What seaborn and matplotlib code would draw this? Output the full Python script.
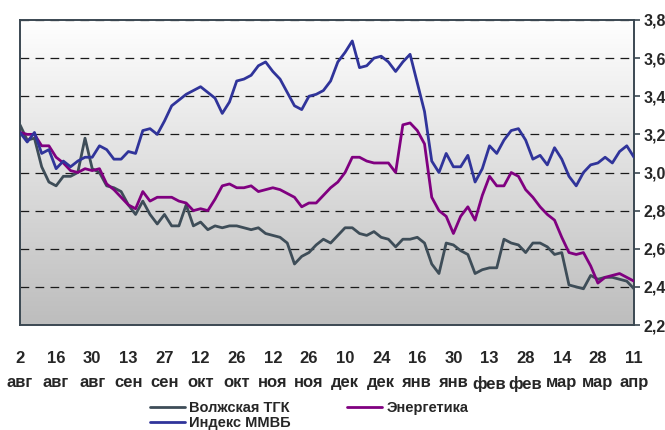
import numpy as np
import pandas as pd
import matplotlib
matplotlib.use("Agg")
import matplotlib.pyplot as plt
from matplotlib.colors import LinearSegmentedColormap
from matplotlib.ticker import FuncFormatter
import seaborn as sns

# ── Style ─────────────────────────────────────────────────────────────────────
sns.set_style("white")
plt.rcParams["font.family"] = ["Liberation Sans Narrow", "Liberation Sans", "DejaVu Sans"]
plt.rcParams["font.weight"] = "bold"

GRAY   = "#3E4D58"
PURPLE = "#800080"
BLUE   = "#30349A"
FRAME  = "#3B4852"

# ── Data (trading-day index, every 2nd session) ───────────────────────────────
day_labels   = ["2", "16", "30", "13", "27", "12", "26", "12", "26",
                "10", "24", "16", "30", "13", "28", "14", "28", "11"]
month_labels = ["авг", "авг", "авг", "сен", "сен", "окт", "окт", "ноя", "ноя",
                "дек", "дек", "янв", "янв", "фев", "фев", "мар", "мар", "апр"]

volga = [3.25, 3.17, 3.18, 3.03, 2.95, 2.93, 2.98, 2.98, 3.00, 3.18,
         3.02, 3.00, 2.93, 2.92, 2.90, 2.83, 2.78, 2.85, 2.78, 2.73,
         2.78, 2.72, 2.72, 2.83, 2.72, 2.74, 2.70, 2.72, 2.71, 2.72,
         2.72, 2.71, 2.70, 2.71, 2.68, 2.67, 2.66, 2.63, 2.52, 2.56,
         2.58, 2.62, 2.65, 2.63, 2.67, 2.71, 2.71, 2.68, 2.67, 2.69,
         2.66, 2.65, 2.61, 2.65, 2.65, 2.66, 2.63, 2.52, 2.47, 2.63,
         2.62, 2.59, 2.57, 2.47, 2.49, 2.50, 2.50, 2.65, 2.63, 2.62,
         2.58, 2.63, 2.63, 2.61, 2.57, 2.58, 2.41, 2.40, 2.39, 2.46,
         2.44, 2.45, 2.45, 2.44, 2.43, 2.39]

energy = [3.21, 3.20, 3.20, 3.14, 3.14, 3.08, 3.05, 3.01, 3.00, 3.02,
          3.01, 3.02, 2.94, 2.91, 2.87, 2.83, 2.81, 2.90, 2.85, 2.87,
          2.87, 2.87, 2.85, 2.84, 2.80, 2.81, 2.80, 2.86, 2.93, 2.94,
          2.92, 2.92, 2.93, 2.90, 2.91, 2.92, 2.91, 2.89, 2.87, 2.82,
          2.84, 2.84, 2.88, 2.92, 2.95, 3.00, 3.08, 3.08, 3.06, 3.05,
          3.05, 3.05, 3.00, 3.25, 3.26, 3.22, 3.15, 2.87, 2.80, 2.77,
          2.68, 2.77, 2.82, 2.75, 2.88, 2.98, 2.93, 2.93, 3.00, 2.98,
          2.91, 2.87, 2.82, 2.78, 2.75, 2.66, 2.58, 2.57, 2.58, 2.51,
          2.42, 2.45, 2.46, 2.47, 2.45, 2.43]

micex = [3.21, 3.16, 3.21, 3.10, 3.12, 3.02, 3.06, 3.03, 3.06, 3.08,
         3.08, 3.14, 3.12, 3.07, 3.07, 3.11, 3.10, 3.22, 3.23, 3.20,
         3.27, 3.35, 3.38, 3.41, 3.43, 3.45, 3.42, 3.39, 3.31, 3.37,
         3.48, 3.49, 3.51, 3.56, 3.58, 3.53, 3.49, 3.42, 3.35, 3.33,
         3.40, 3.41, 3.43, 3.48, 3.58, 3.63, 3.69, 3.55, 3.56, 3.60,
         3.61, 3.58, 3.53, 3.58, 3.62, 3.47, 3.32, 3.06, 3.00, 3.10,
         3.03, 3.03, 3.09, 2.95, 3.02, 3.14, 3.10, 3.17, 3.22, 3.23,
         3.17, 3.07, 3.09, 3.04, 3.13, 3.07, 2.98, 2.93, 3.00, 3.04,
         3.05, 3.08, 3.05, 3.11, 3.14, 3.08]

names = ["Волжская ТГК", "Энергетика", "Индекс ММВБ"]
session = np.arange(0, 171, 2)
df = pd.DataFrame({
    "session": np.tile(session, 3),
    "value": volga + energy + micex,
    "series": np.repeat(names, len(session)),
})

# ── Plot ──────────────────────────────────────────────────────────────────────
fig = plt.figure(figsize=(6.65, 4.30), dpi=100)
ax = fig.add_axes([20 / 665, 105 / 430, 614 / 665, 305 / 430])

# grey-to-white background gradient
grad = LinearSegmentedColormap.from_list("bg", ["#BDBDBD", "#FFFFFF"])
ax.imshow(np.linspace(0, 1, 256).reshape(-1, 1), cmap=grad, origin="lower",
          extent=[0, 1, 0, 1], transform=ax.transAxes, aspect="auto", zorder=0)

sns.lineplot(data=df, x="session", y="value", hue="series", hue_order=names,
             palette=[GRAY, PURPLE, BLUE], linewidth=2.0, ax=ax, zorder=3,
             legend=False)

ax.set_xlim(0, 170)
ax.set_ylim(2.2, 3.8)
ax.set_xlabel("")
ax.set_ylabel("")

ax.set_yticks(np.arange(2.2, 3.81, 0.2))
ax.yaxis.set_major_formatter(FuncFormatter(lambda v, _: f"{v:.1f}".replace(".", ",")))
ax.yaxis.tick_right()
ax.set_xticks(np.arange(0, 171, 10))
ax.set_xticklabels([f"{d}\n{m}" for d, m in zip(day_labels, month_labels)],
                   linespacing=1.75)

ax.yaxis.grid(True, linestyle=(0, (7, 5)), color="#1A1A1A", linewidth=0.9, zorder=1)
ax.xaxis.grid(False)
ax.set_axisbelow(True)

for s in ax.spines.values():
    s.set_color(FRAME)
    s.set_linewidth(1.4)

ax.tick_params(axis="x", direction="out", length=5, width=1.2, color=FRAME,
               pad=14, labelsize=12)
ax.tick_params(axis="y", direction="out", length=4, width=1.2, color=FRAME,
               pad=3, labelsize=11.5, right=True, left=False)

# legend: two columns, Волжская ТГК / Индекс ММВБ | Энергетика
lines = {n: l for n, l in zip(names, ax.get_lines())}
order = ["Волжская ТГК", "Индекс ММВБ", "Энергетика"]
fig.legend([lines[n] for n in order], order, ncol=2, loc="center",
           bbox_to_anchor=(0.465, 0.034), frameon=False,
           handlelength=2.4, handletextpad=0.25, columnspacing=3.9,
           labelspacing=0.1, borderpad=0, prop={"weight": "bold", "size": 10.5})

fig.savefig("out.png", dpi=100)
